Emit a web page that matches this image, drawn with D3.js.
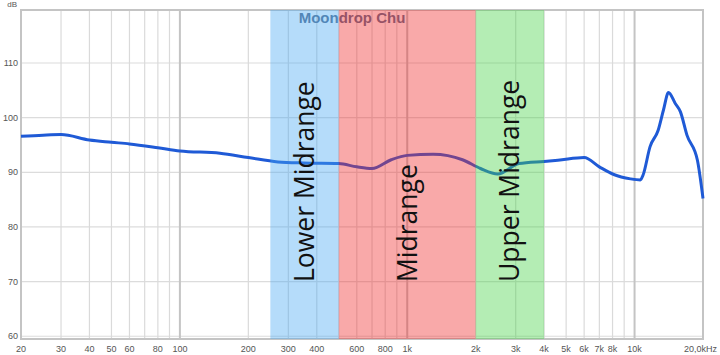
<!DOCTYPE html>
<html>
<head>
<meta charset="utf-8">
<script src="https://cdn.jsdelivr.net/npm/d3@7"></script>
<style>
  body { margin: 0; background: #fff; }
  svg { display: block; }
</style>
</head>
<body>
<script>
'use strict';

// frequency response
var freqs = [20, 25, 30, 40, 50, 60, 80, 100, 150, 200, 270, 350, 500, 600, 700, 850, 1000, 1300, 1750, 2100,
  2500, 3100, 4000, 4600, 6000, 7000, 8100, 9600, 10600, 10900, 11700, 12700, 13400, 14100, 15100, 15900,
  17000, 18900, 20000];
var spl = [96.6, 96.8, 96.9, 95.9, 95.5, 95.2, 94.5, 93.9, 93.5, 92.7, 91.9, 91.7, 91.6, 91.0, 90.7, 92.3,
  93.1, 93.3, 92.3, 90.7, 89.7, 91.6, 92.0, 92.2, 92.7, 91.0, 89.6, 88.8, 88.6, 89.5, 94.7, 97.7, 101.4,
  104.6, 102.6, 101.1, 96.8, 92.2, 85.2];

var bandNames = ['Lower Midrange', 'Midrange', 'Upper Midrange'];
var bandFrom = [250, 500, 2000];
var bandTo = [500, 2000, 4000];
var bandColors = ['#46a7f2', '#f02828', '#43d243'];

var yTicks = [60, 70, 80, 90, 100, 110];
var xGrid = [20, 30, 40, 50, 60, 70, 80, 90, 100, 200, 300, 400, 500, 600, 700, 800, 900, 1000,
  2000, 3000, 4000, 5000, 6000, 7000, 8000, 9000, 10000, 20000];
var xMajor = [100, 1000, 10000];
var xTickVals = [20, 30, 40, 50, 60, 80, 100, 200, 300, 400, 600, 800, 1000, 2000, 3000, 4000, 5000,
  6000, 7000, 8000, 10000];
var xTickText = ['20', '30', '40', '50', '60', '80', '100', '200', '300', '400', '600', '800', '1k', '2k',
  '3k', '4k', '5k', '6k', '7k', '8k', '10k'];

var width = 720;
var height = 355;
var margin = { top: 10, right: 17, bottom: 16, left: 21 };

var x = d3.scaleLog().domain([20, 20000]).range([margin.left, width - margin.right]);
var y = d3.scaleLinear().domain([59.5, 119.7]).range([height - margin.bottom, margin.top]);

var svg = d3.select('body').append('svg')
  .attr('width', width)
  .attr('height', height)
  .style('font-family', 'Liberation Sans, Arial, sans-serif');

// grid
svg.append('g').selectAll('line')
  .data(yTicks)
  .enter().append('line')
  .attr('x1', margin.left).attr('x2', width - margin.right)
  .attr('y1', function(d) { return y(d); }).attr('y2', function(d) { return y(d); })
  .attr('stroke', '#dcdcdc').attr('stroke-width', 1.2);

svg.append('g').selectAll('line')
  .data(xGrid)
  .enter().append('line')
  .attr('x1', function(d) { return x(d); }).attr('x2', function(d) { return x(d); })
  .attr('y1', margin.top).attr('y2', height - margin.bottom)
  .attr('stroke', function(d) { return xMajor.indexOf(d) >= 0 ? '#c4c4c4' : '#dadada'; })
  .attr('stroke-width', function(d) { return xMajor.indexOf(d) >= 0 ? 2 : 1.2; });

// frame
svg.append('rect')
  .attr('x', margin.left).attr('y', margin.top)
  .attr('width', width - margin.left - margin.right)
  .attr('height', height - margin.top - margin.bottom)
  .attr('fill', 'none').attr('stroke', '#c4c4c4').attr('stroke-width', 2);

// title
svg.append('text')
  .attr('x', 352).attr('y', 23)
  .attr('text-anchor', 'middle')
  .attr('font-size', 15).attr('font-weight', 'bold')
  .attr('fill', '#5a7090')
  .text('Moondrop Chu');

// axis labels
svg.append('g').selectAll('text')
  .data(yTicks)
  .enter().append('text')
  .attr('x', 18).attr('y', function(d) { return y(d); })
  .attr('dy', '0.35em')
  .attr('text-anchor', 'end')
  .attr('font-size', 9).attr('fill', '#555')
  .text(function(d) { return d; });

svg.append('text')
  .attr('x', 17).attr('y', 7)
  .attr('text-anchor', 'end')
  .attr('font-size', 8).attr('fill', '#555')
  .text('dB');

svg.append('g').selectAll('text')
  .data(xTickVals)
  .enter().append('text')
  .attr('x', function(d) { return x(d); }).attr('y', 352)
  .attr('text-anchor', 'middle')
  .attr('font-size', 9).attr('fill', '#555')
  .text(function(d, i) { return xTickText[i]; });

svg.append('text')
  .attr('x', 717).attr('y', 352)
  .attr('text-anchor', 'end')
  .attr('font-size', 9).attr('fill', '#555')
  .text('20,0kHz');

// curve
var line = d3.line()
  .x(function(d, i) { return x(freqs[i]); })
  .y(function(d) { return y(d); })
  .curve(d3.curveMonotoneX);

svg.append('path')
  .datum(spl)
  .attr('d', line)
  .attr('fill', 'none')
  .attr('stroke', '#1f5ad6')
  .attr('stroke-width', 3)
  .attr('stroke-linejoin', 'round');

// frequency bands laid over the plot
svg.append('g').selectAll('rect')
  .data(bandNames)
  .enter().append('rect')
  .attr('x', function(d, i) { return x(bandFrom[i]); })
  .attr('width', function(d, i) { return x(bandTo[i]) - x(bandFrom[i]); })
  .attr('y', margin.top)
  .attr('height', height - margin.top - margin.bottom)
  .attr('fill', function(d, i) { return bandColors[i]; })
  .attr('fill-opacity', 0.4);

svg.append('g').selectAll('text')
  .data(bandNames)
  .enter().append('text')
  .attr('transform', function(d, i) {
    var cx = x(Math.sqrt(bandFrom[i] * bandTo[i]));
    return 'translate(' + cx + ',282) rotate(-90)';
  })
  .attr('dy', '0.35em')
  .attr('font-family', 'Open Sans, sans-serif')
  .attr('font-size', 26.5)
  .attr('fill', '#111')
  .text(function(d) { return d; });
</script>
</body>
</html>
